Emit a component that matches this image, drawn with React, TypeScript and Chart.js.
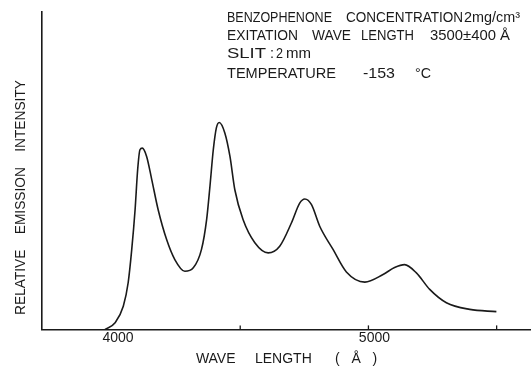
import React, { useEffect, useRef } from "react";
import { Chart, registerables } from "chart.js";

Chart.register(...registerables);

// Wavelength (Å) and relative emission intensity
const wavelengths = [
  3973, 4012, 4044, 4063, 4077, 4090, 4100, 4109, 4118, 4135,
  4155, 4180, 4213, 4245, 4284, 4317, 4349, 4369, 4382, 4395,
  4407, 4418, 4440, 4460, 4479, 4511, 4557, 4609, 4654, 4700,
  4732, 4752, 4778, 4810, 4862, 4914, 4986, 5057, 5102, 5141,
  5187, 5239, 5304, 5395, 5499,
];
const intensity = [
  0, 2.1, 7.3, 14.7, 25.2, 37.7, 50.3, 56.6, 57.1, 54.5,
  47.2, 37.7, 28.3, 22.0, 18.3, 19.4, 25.2, 34.6, 45.1, 56.6,
  63.5, 65.2, 61.9, 54.5, 44.0, 34.6, 27.3, 24.1, 26.2, 33.6,
  39.8, 41.1, 39.3, 32.5, 25.2, 18.1, 14.9, 17.3, 19.5, 20.4,
  17.8, 12.6, 8.4, 6.3, 5.6,
];

const xTickLabels = [4000, 5000];
const xTickMarks = [4500, 5000, 5500];

const xTitle = "WAVE     LENGTH      (   Å   )";
const yTitle = "RELATIVE    EMISSION    INTENSITY";
const noteLine1 = ["BENZOPHENONE", "CONCENTRATION", "2mg/cm³"];
const noteLine2 = ["EXITATION", "WAVE", "LENGTH", "3500±400 Å"];
const noteLine3 = ["SLIT", ":", "2", "mm"];
const noteLine4 = ["TEMPERATURE", "-153", "°C"];

const FONT = "'Liberation Sans', Arial, sans-serif";
const INK = "#1a1a1a";

export default function App() {
  const ref = useRef<HTMLCanvasElement | null>(null);

  useEffect(() => {
    const canvas = ref.current;
    if (!canvas) return;

    const drawFit = (ctx: CanvasRenderingContext2D, text: string, x: number, y: number, w: number) => {
      const m = ctx.measureText(text).width || 1;
      ctx.save();
      ctx.translate(x, y);
      ctx.scale(w / m, 1);
      ctx.fillText(text, 0, 0);
      ctx.restore();
    };

    const annotations = {
      id: "annotations",
      afterDraw(chart: any) {
        const ctx: CanvasRenderingContext2D = chart.ctx;
        const xs = chart.scales.x;
        const area = chart.chartArea;
        ctx.save();
        // small inward tick marks on the x axis
        ctx.strokeStyle = INK;
        ctx.lineWidth = 1.3;
        xTickMarks.forEach((v) => {
          const px = xs.getPixelForValue(v);
          ctx.beginPath();
          ctx.moveTo(px, area.bottom);
          ctx.lineTo(px, area.bottom - 4);
          ctx.stroke();
        });

        ctx.fillStyle = INK;
        ctx.font = `14px ${FONT}`;
        ctx.textBaseline = "alphabetic";
        ctx.textAlign = "left";

        // y title
        ctx.save();
        ctx.translate(25, 315);
        ctx.rotate(-Math.PI / 2);
        drawFit(ctx, yTitle, 0, 0, 235);
        ctx.restore();

        // parameter block
        const l1 = [[227, 105], [346, 117], [464, 56]];
        noteLine1.forEach((t, i) => drawFit(ctx, t, l1[i][0], 22, l1[i][1]));
        const l2 = [[227, 71], [312, 39], [361, 53], [430, 80]];
        noteLine2.forEach((t, i) => drawFit(ctx, t, l2[i][0], 40, l2[i][1]));
        const l3 = [[227, 39], [270, 4], [276, 7], [286, 25]];
        noteLine3.forEach((t, i) => drawFit(ctx, t, l3[i][0], 58, l3[i][1]));
        const l4 = [[227, 109], [363, 32], [415, 16]];
        noteLine4.forEach((t, i) => drawFit(ctx, t, l4[i][0], 77.5, l4[i][1]));
        ctx.restore();
      },
    };

    const chart = new Chart(canvas, {
      type: "line",
      data: {
        datasets: [
          {
            data: wavelengths.map((w, i) => ({ x: w, y: intensity[i] })),
            borderColor: INK,
            borderWidth: 1.6,
            pointRadius: 0,
            fill: false,
            cubicInterpolationMode: "monotone",
          },
        ],
      },
      options: {
        responsive: false,
        animation: false,
        devicePixelRatio: 1,
        layout: { padding: { left: 42, top: 12, right: 0, bottom: 0 } },
        plugins: {
          legend: { display: false },
          tooltip: { enabled: false },
        },
        scales: {
          x: {
            type: "linear",
            min: 3727,
            max: 5634,
            grid: { display: false, drawTicks: false },
            border: { display: true, color: INK, width: 1.6 },
            afterBuildTicks: (s: any) => {
              s.ticks = xTickLabels.map((v) => ({ value: v }));
            },
            ticks: {
              color: INK,
              padding: 0,
              labelOffset: 6,
              autoSkip: false,
              maxRotation: 0,
              font: { family: FONT, size: 14 },
              callback: (v: any) => String(v),
            },
            title: {
              display: true,
              text: xTitle,
              color: INK,
              font: { family: FONT, size: 14 },
              padding: { top: 5, bottom: 0 },
            },
          },
          y: {
            type: "linear",
            min: 0,
            max: 100,
            grid: { display: false, drawTicks: false },
            border: { display: true, color: INK, width: 1.6 },
            ticks: { display: false },
          },
        },
      },
      plugins: [annotations],
    } as any);

    return () => chart.destroy();
  }, []);

  return (
    <div style={{ position: "fixed", left: 0, top: 0, width: 531, height: 368, background: "#fff" }}>
      <canvas ref={ref} width={531} height={368} style={{ display: "block", width: 531, height: 368 }} />
    </div>
  );
}
